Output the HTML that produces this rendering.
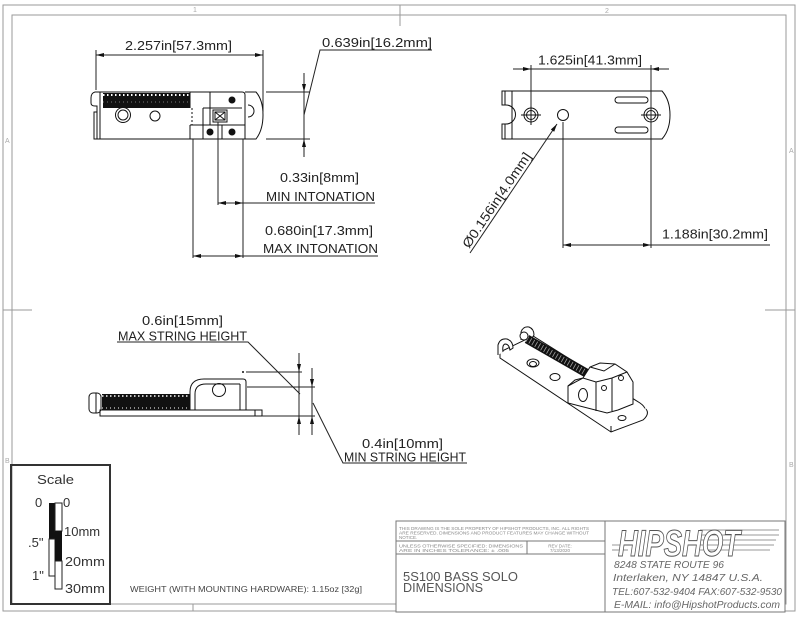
<!DOCTYPE html>
<html><head><meta charset="utf-8"><style>
html,body{margin:0;padding:0;background:#fff;}
svg{display:block;}
text{font-family:"Liberation Sans",sans-serif;}
</style></head><body>
<svg width="800" height="620" viewBox="0 0 800 620" xmlns="http://www.w3.org/2000/svg">
<rect width="800" height="620" fill="#fff"/>
<!-- borders -->
<g stroke="#9a9a9a" stroke-width="1" fill="none">
<rect x="3" y="5" width="792" height="606"/>
<rect x="12" y="15" width="774" height="589"/>
<line x1="400" y1="5" x2="400" y2="26"/>
<line x1="3" y1="310" x2="32" y2="310"/>
<line x1="765" y1="310" x2="795" y2="310"/>
<line x1="193" y1="604" x2="193" y2="611"/>
</g>
<g fill="#aaa" font-size="7">
<text x="193" y="12">1</text>
<text x="605" y="13">2</text>
<text x="5" y="143">A</text>
<text x="789" y="153">A</text>
<text x="5" y="463">B</text>
<text x="789" y="467">B</text>
</g>

<!-- ===== TOP-LEFT VIEW ===== -->
<g stroke="#111" fill="none" stroke-width="1">
<path d="M100,92 L242,92 Q245,92 245,95 L245,139 L100,139 Z"/>
<path d="M245,92 L256,92 Q263,100 263,115 Q263,130 256,139 L245,139"/>
<path d="M248,105 A6,6 0 0 1 248,117"/>
<path d="M100,92 L95,92 Q91,93 91,98 L91,103 Q91,106 95,106 L97,106 L97,112 L94,112 L94,139 L100,139"/>
<line x1="97" y1="112" x2="97" y2="139"/>
<circle cx="123" cy="115" r="7.5"/>
<circle cx="123" cy="115" r="5"/>
<circle cx="155" cy="116" r="5"/>
<line x1="190" y1="92" x2="190" y2="108"/>
<line x1="192" y1="108" x2="192" y2="125" stroke-dasharray="2 2"/>
<line x1="210" y1="92" x2="210" y2="125"/>
<line x1="203" y1="108" x2="242" y2="108"/>
<line x1="190" y1="125" x2="245" y2="125"/>
<line x1="203" y1="108" x2="203" y2="139"/>
<line x1="190" y1="125" x2="190" y2="139"/>
<line x1="222" y1="125" x2="222" y2="139"/>
<rect x="213" y="110" width="14" height="12"/>
<rect x="215" y="112" width="10" height="8"/>
<path d="M215,112 L225,120 M225,112 L215,120"/>
</g>
<rect x="103" y="93" width="87" height="15" fill="#111"/>
<line x1="103" y1="95" x2="190" y2="95" stroke="#fff" stroke-width="2" stroke-dasharray="1.5 2.5"/>
<line x1="103" y1="102" x2="190" y2="102" stroke="#777" stroke-width="1" stroke-dasharray="1 3"/>
<g fill="#111">
<circle cx="232" cy="100" r="3.5"/>
<circle cx="210" cy="132" r="3.5"/>
<circle cx="232" cy="132" r="3.5"/>
</g>
<!-- dims top-left -->
<g stroke="#222" stroke-width="1" fill="none">
<line x1="96" y1="50" x2="96" y2="90"/>
<line x1="263" y1="50" x2="263" y2="112"/>
<line x1="96" y1="55" x2="263" y2="55"/>
<line x1="266" y1="92" x2="310" y2="92"/>
<line x1="266" y1="139" x2="310" y2="139"/>
<line x1="304" y1="73" x2="304" y2="157"/>
<polyline points="304,115 320,50 432,50"/>
<line x1="193" y1="139" x2="193" y2="258"/>
<line x1="218" y1="122" x2="218" y2="205"/>
<line x1="243" y1="139" x2="243" y2="258"/>
<line x1="218" y1="203" x2="375" y2="203"/>
<line x1="193" y1="256" x2="378" y2="256"/>
</g>
<g fill="#111">
<polygon points="96,55 104,53 104,57"/>
<polygon points="263,55 255,53 255,57"/>
<polygon points="304,92 302,84 306,84"/>
<polygon points="304,139 302,147 306,147"/>
<polygon points="218,203 226,201 226,205"/>
<polygon points="243,203 235,201 235,205"/>
<polygon points="193,256 201,254 201,258"/>
<polygon points="243,256 235,254 235,258"/>
</g>
<g fill="#222" font-size="13">
<text x="125" y="50" textLength="107" lengthAdjust="spacingAndGlyphs">2.257in[57.3mm]</text>
<text x="322" y="47" textLength="110" lengthAdjust="spacingAndGlyphs">0.639in[16.2mm]</text>
<text x="280" y="182" textLength="79" lengthAdjust="spacingAndGlyphs">0.33in[8mm]</text>
<text x="266" y="201" textLength="109" lengthAdjust="spacingAndGlyphs">MIN INTONATION</text>
<text x="265" y="235" textLength="108" lengthAdjust="spacingAndGlyphs">0.680in[17.3mm]</text>
<text x="263" y="253" textLength="115" lengthAdjust="spacingAndGlyphs">MAX INTONATION</text>
</g>

<!-- ===== TOP-RIGHT VIEW ===== -->
<g stroke="#111" fill="none" stroke-width="1">
<path d="M512,91 L662,91 Q670,100 670,115 Q670,130 662,139 L512,139"/>
<path d="M512,91 L502,91 L502,105 L506,105 A9.5,9.5 0 0 1 506,124 L502,124 L502,139 L512,139"/>
<line x1="505" y1="91" x2="505" y2="105"/>
<line x1="505" y1="124" x2="505" y2="139"/>
<line x1="512" y1="91" x2="512" y2="139"/>
<circle cx="531" cy="115" r="7"/>
<circle cx="531" cy="115" r="4.5"/>
<path d="M521,115 L541,115 M531,105 L531,125"/>
<circle cx="651" cy="115" r="7"/>
<circle cx="651" cy="115" r="4.5"/>
<path d="M641,115 L661,115 M651,105 L651,125"/>
<circle cx="563" cy="115" r="5.5"/>
<rect x="615" y="97" width="33" height="6" rx="3"/>
<rect x="615" y="127" width="33" height="6" rx="3"/>
</g>
<g stroke="#222" stroke-width="1" fill="none">
<line x1="531" y1="65" x2="531" y2="106"/>
<line x1="651" y1="65" x2="651" y2="248"/>
<line x1="513" y1="69" x2="669" y2="69"/>
<line x1="563" y1="122" x2="563" y2="248"/>
<line x1="563" y1="245" x2="770" y2="245"/>
<line x1="557" y1="124" x2="470" y2="253"/>
</g>
<g fill="#111">
<polygon points="531,69 523,67 523,71"/>
<polygon points="651,69 659,67 659,71"/>
<polygon points="563,245 571,243 571,247"/>
<polygon points="651,245 643,243 643,247"/>
<polygon points="557,124 554.2,131.7 550.8,129.5"/>
</g>
<g fill="#222" font-size="13">
<text x="538" y="64.5" textLength="104" lengthAdjust="spacingAndGlyphs">1.625in[41.3mm]</text>
<text x="662" y="238.5" textLength="106" lengthAdjust="spacingAndGlyphs">1.188in[30.2mm]</text>
<text transform="translate(469,249) rotate(-56)" textLength="112" lengthAdjust="spacingAndGlyphs">Ø0.156in[4.0mm]</text>
</g>

<!-- ===== MIDDLE-LEFT VIEW ===== -->
<g stroke="#111" fill="none" stroke-width="1">
<rect x="89" y="393" width="12" height="20" rx="4"/>
<line x1="96" y1="393" x2="96" y2="413"/>
<rect x="100" y="410" width="162" height="6"/>
<line x1="255" y1="410" x2="255" y2="416"/>
<path d="M190,410 L190,392 Q190,379 204,379 L243,379 Q246,379 246,382 L246,410"/>
<path d="M195,410 L195,394 Q195,384 206,384 L240,384"/>
<circle cx="219" cy="390" r="6.5"/>
<line x1="240" y1="384" x2="240" y2="410"/>
</g>
<rect x="102" y="394" width="88" height="16" fill="#111"/>
<line x1="102" y1="396" x2="190" y2="396" stroke="#fff" stroke-width="1.5" stroke-dasharray="1.5 2.5"/>
<line x1="102" y1="408" x2="190" y2="408" stroke="#fff" stroke-width="1" stroke-dasharray="1 3"/>
<g stroke="#222" stroke-width="1" fill="none">
<line x1="246" y1="372" x2="302" y2="372"/>
<line x1="247" y1="387" x2="315" y2="387"/>
<line x1="262" y1="416" x2="315" y2="416"/>
<line x1="299" y1="353" x2="299" y2="435"/>
<line x1="312" y1="368" x2="312" y2="435"/>
<polyline points="117,342 248,342 300,394"/>
<polyline points="313,403 343,463 467,463"/>
</g>
<g fill="#111">
<circle cx="243" cy="372" r="1"/>
<polygon points="299,372 297,364 301,364"/>
<polygon points="299,416 297,424 301,424"/>
<polygon points="312,387 310,379 314,379"/>
<polygon points="312,416 310,424 314,424"/>
</g>
<g fill="#222" font-size="12.5">
<text x="142" y="325" textLength="81" lengthAdjust="spacingAndGlyphs">0.6in[15mm]</text>
<text x="118" y="340.5" textLength="129" lengthAdjust="spacingAndGlyphs">MAX STRING HEIGHT</text>
<text x="362" y="448" textLength="81" lengthAdjust="spacingAndGlyphs">0.4in[10mm]</text>
<text x="344" y="461.5" textLength="122" lengthAdjust="spacingAndGlyphs">MIN STRING HEIGHT</text>
</g>

<!-- ===== 3D VIEW ===== -->
<g stroke="#111" fill="#fff" stroke-width="1">
<path d="M500,352 L533,336 L640,403 Q650,410 641,416 L611,426 Z"/>
<path d="M500,352 L500,358 L611,432 L643,420 Q650,414 646,409"/>
<line x1="611" y1="426" x2="611" y2="432"/>
<path d="M498,355 L498,345 Q500,338 507,339 Q513,341 513,348 L510,350 Q509,344 505,344 Q502,345 503,352" fill="#fff"/>
<path d="M521,340 L521,332 Q523,326 529,327 Q534,329 534,335 L532,338" fill="#fff"/>
<ellipse cx="533" cy="363" rx="6" ry="4"/>
<ellipse cx="533" cy="364" rx="3.5" ry="2.5"/>
<ellipse cx="555" cy="377" rx="5" ry="3.5"/>
<ellipse cx="622" cy="418" rx="4" ry="2.5"/>
</g>
<line x1="527" y1="339" x2="588" y2="374" stroke="#111" stroke-width="9"/>
<line x1="527" y1="339" x2="588" y2="374" stroke="#fff" stroke-width="6" stroke-dasharray="0.8 2.6" opacity="0.6"/>
<circle cx="524" cy="336" r="4" fill="#fff" stroke="#111"/>
<g stroke="#111" fill="#fff" stroke-width="1">
<path d="M568,386 L568,403 L607,413 L618,410 L633,404 L633,382 L627,372 L615,364 L600,363 L590,367 L583,378 L575,380 Z"/>
<path d="M568,386 L583,378 L596,382 L612,378 L627,372" fill="none"/>
<path d="M596,382 L596,411 M612,378 L612,411 M590,367 L604,371 L615,364" fill="none"/>
<ellipse cx="583" cy="395" rx="4.5" ry="6.5"/>
<circle cx="604" cy="388" r="2.5"/>
<circle cx="621" cy="378" r="2.5"/>
</g>

<!-- ===== SCALE BOX ===== -->
<rect x="11" y="465" width="99" height="139" fill="none" stroke="#333" stroke-width="2"/>
<text x="37" y="484" font-size="13" fill="#333" textLength="37" lengthAdjust="spacingAndGlyphs">Scale</text>
<rect x="49" y="503" width="6" height="36" fill="#111"/>
<rect x="49" y="539" width="6" height="37" fill="#fff" stroke="#222"/>
<rect x="55" y="503" width="7" height="28" fill="#fff" stroke="#222"/>
<rect x="55" y="531" width="7" height="30" fill="#111"/>
<rect x="55" y="561" width="7" height="28" fill="#fff" stroke="#222"/>
<g fill="#333" font-size="13">
<text x="35" y="507">0</text>
<text x="63" y="507">0</text>
<text x="28" y="547">.5"</text>
<text x="32" y="580">1"</text>
<text x="64" y="536">10mm</text>
<text x="65" y="566" textLength="40" lengthAdjust="spacingAndGlyphs">20mm</text>
<text x="65" y="593" textLength="40" lengthAdjust="spacingAndGlyphs">30mm</text>
</g>
<text x="130" y="592" font-size="8.5" fill="#444" textLength="232" lengthAdjust="spacingAndGlyphs">WEIGHT (WITH MOUNTING HARDWARE): 1.15oz [32g]</text>
<line x1="398" y1="560" x2="398" y2="604" stroke="#888"/>

<!-- ===== TITLE BLOCK ===== -->
<g stroke="#777" fill="none" stroke-width="1">
<rect x="396" y="521" width="389" height="91" fill="#fff"/>
<line x1="605" y1="521" x2="605" y2="612"/>
<line x1="396" y1="541" x2="605" y2="541"/>
<line x1="396" y1="554" x2="605" y2="554"/>
<line x1="527" y1="541" x2="527" y2="554"/>
</g>
<g fill="#888" font-size="4.5">
<text x="399" y="530" textLength="190" lengthAdjust="spacingAndGlyphs">THIS DRAWING IS THE SOLE PROPERTY OF HIPSHOT PRODUCTS, INC. ALL RIGHTS</text>
<text x="399" y="534.5" textLength="190" lengthAdjust="spacingAndGlyphs">ARE RESERVED. DIMENSIONS AND PRODUCT FEATURES MAY CHANGE WITHOUT</text>
<text x="399" y="539">NOTICE.</text>
<text x="399" y="547.5" textLength="124" lengthAdjust="spacingAndGlyphs">UNLESS OTHERWISE SPECIFIED: DIMENSIONS</text>
<text x="399" y="552" textLength="110" lengthAdjust="spacingAndGlyphs">ARE IN INCHES TOLERANCE: ± .005</text>
<text x="560" y="547.5" text-anchor="middle">REV DATE:</text>
<text x="560" y="552" text-anchor="middle">7/13/2020</text>
</g>
<g fill="#555" font-size="12.5">
<text x="403" y="581" textLength="115" lengthAdjust="spacingAndGlyphs">5S100 BASS SOLO</text>
<text x="403" y="592" textLength="80" lengthAdjust="spacingAndGlyphs">DIMENSIONS</text>
</g>
<!-- logo -->
<g stroke="#777" stroke-width="0.8">
<line x1="700" y1="530" x2="779" y2="530"/>
<line x1="700" y1="535" x2="779" y2="535"/>
<line x1="700" y1="540" x2="776" y2="540"/>
<line x1="700" y1="545" x2="774" y2="545"/>
<line x1="700" y1="550" x2="770" y2="550"/>
<line x1="612" y1="545" x2="630" y2="545"/>
<line x1="612" y1="550" x2="628" y2="550"/>
</g>
<text x="618" y="556" font-size="37" font-style="italic" font-weight="bold" fill="#fff" stroke="#555" stroke-width="1" textLength="122" lengthAdjust="spacingAndGlyphs">HIPSHOT</text>
<g fill="#666" font-size="10.5" font-style="italic">
<text x="614" y="568" textLength="110" lengthAdjust="spacingAndGlyphs">8248 STATE ROUTE 96</text>
<text x="613" y="581" textLength="150" lengthAdjust="spacingAndGlyphs">Interlaken, NY 14847 U.S.A.</text>
<text x="612" y="595" textLength="170" lengthAdjust="spacingAndGlyphs">TEL:607-532-9404 FAX:607-532-9530</text>
<text x="614" y="608" textLength="166" lengthAdjust="spacingAndGlyphs">E-MAIL: info@HipshotProducts.com</text>
</g>
</svg>
</body></html>
